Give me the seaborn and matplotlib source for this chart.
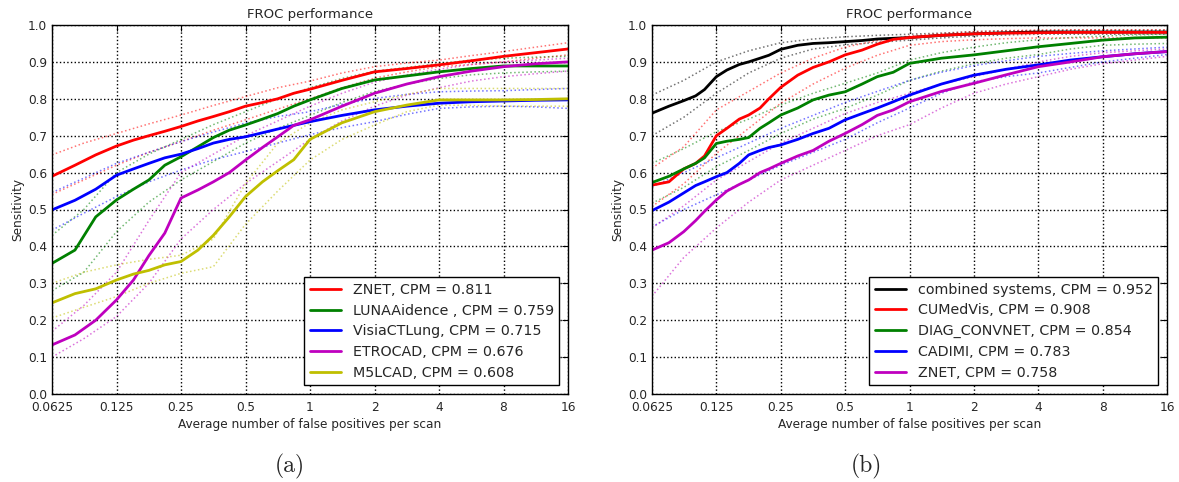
import numpy as np
import pandas as pd
import matplotlib
matplotlib.use("Agg")
import matplotlib.pyplot as plt
import seaborn as sns

# x grids (average false positives per scan)
xa = [0.0625, 0.08, 0.1, 0.125, 0.15, 0.177, 0.21, 0.25, 0.3, 0.354, 0.42, 0.5,
      0.6, 0.707, 0.84, 1, 1.41, 2, 2.83, 4, 5.66, 8, 11.3, 16]
xr = [0.0625, 0.075, 0.088, 0.1, 0.11, 0.125, 0.14, 0.16, 0.177, 0.2, 0.22, 0.25,
      0.3, 0.354, 0.42, 0.5, 0.6, 0.707, 0.84, 1, 1.41, 2, 2.83, 4, 5.66, 8, 11.3, 16]
xband = [0.0625, 0.088, 0.125, 0.177, 0.25, 0.354, 0.5, 0.707, 1, 1.41, 2, 2.83,
         4, 5.66, 8, 11.3, 16]

# panel (a)
labels_a = ["ZNET, CPM = 0.811", "LUNAAidence , CPM = 0.759", "VisiaCTLung, CPM = 0.715",
            "ETROCAD, CPM = 0.676", "M5LCAD, CPM = 0.608"]
colors_a = ["r", "g", "b", "m", "y"]
znet_a = [0.59, 0.62, 0.648, 0.672, 0.688, 0.70, 0.712, 0.725, 0.74, 0.752, 0.765, 0.78,
          0.79, 0.80, 0.815, 0.826, 0.85, 0.873, 0.882, 0.892, 0.903, 0.915, 0.925, 0.935]
luna_a = [0.354, 0.39, 0.48, 0.526, 0.555, 0.58, 0.62, 0.643, 0.67, 0.695, 0.715, 0.729,
          0.745, 0.76, 0.78, 0.797, 0.828, 0.851, 0.862, 0.873, 0.882, 0.889, 0.889, 0.889]
visia_a = [0.499, 0.525, 0.555, 0.593, 0.61, 0.625, 0.64, 0.65, 0.665, 0.68, 0.69, 0.697,
           0.708, 0.718, 0.728, 0.738, 0.755, 0.77, 0.78, 0.788, 0.792, 0.794, 0.796, 0.797]
etro_a = [0.133, 0.16, 0.20, 0.255, 0.309, 0.375, 0.436, 0.531, 0.553, 0.575, 0.60, 0.634,
          0.668, 0.697, 0.728, 0.743, 0.78, 0.815, 0.84, 0.86, 0.875, 0.887, 0.895, 0.90]
m5_a = [0.247, 0.272, 0.285, 0.309, 0.325, 0.335, 0.35, 0.359, 0.39, 0.43, 0.48, 0.535,
        0.575, 0.605, 0.635, 0.69, 0.735, 0.765, 0.783, 0.797, 0.797, 0.797, 0.798, 0.80]

znet_a_hi = [0.648, 0.68, 0.706, 0.732, 0.756, 0.782, 0.806, 0.83, 0.848, 0.87, 0.887, 0.897, 0.905, 0.917, 0.928, 0.94, 0.952]
znet_a_lo = [0.541, 0.58, 0.62, 0.655, 0.684, 0.715, 0.743, 0.772, 0.80, 0.83, 0.856, 0.873, 0.887, 0.893, 0.90, 0.91, 0.919]
luna_a_hi = [0.43, 0.50, 0.60, 0.65, 0.69, 0.73, 0.765, 0.80, 0.83, 0.855, 0.875, 0.885, 0.895, 0.905, 0.91, 0.913, 0.915]
luna_a_lo = [0.28, 0.33, 0.44, 0.52, 0.58, 0.63, 0.68, 0.72, 0.755, 0.79, 0.82, 0.84, 0.855, 0.865, 0.87, 0.873, 0.875]
visia_a_hi = [0.546, 0.585, 0.625, 0.655, 0.684, 0.71, 0.734, 0.752, 0.765, 0.785, 0.801, 0.812, 0.819, 0.821, 0.822, 0.825, 0.828]
visia_a_lo = [0.444, 0.49, 0.535, 0.575, 0.607, 0.635, 0.657, 0.68, 0.703, 0.722, 0.738, 0.758, 0.774, 0.778, 0.78, 0.778, 0.774]
etro_a_hi = [0.17, 0.24, 0.33, 0.47, 0.60, 0.65, 0.70, 0.74, 0.78, 0.815, 0.845, 0.865, 0.88, 0.893, 0.90, 0.905, 0.91]
etro_a_lo = [0.10, 0.15, 0.21, 0.30, 0.42, 0.50, 0.57, 0.63, 0.69, 0.74, 0.78, 0.81, 0.83, 0.848, 0.86, 0.868, 0.875]
m5_a_hi = [0.30, 0.33, 0.35, 0.365, 0.376, 0.42, 0.57, 0.68, 0.735, 0.77, 0.792, 0.812, 0.828, 0.828, 0.828, 0.828, 0.828]
m5_a_lo = [0.206, 0.235, 0.264, 0.30, 0.327, 0.345, 0.46, 0.55, 0.634, 0.69, 0.729, 0.765, 0.783, 0.782, 0.78, 0.78, 0.78]

# panel (b)
labels_b = ["combined systems, CPM = 0.952", "CUMedVis, CPM = 0.908", "DIAG_CONVNET, CPM = 0.854",
            "CADIMI, CPM = 0.783", "ZNET, CPM = 0.758"]
colors_b = ["k", "r", "g", "b", "m"]
comb_b = [0.761, 0.78, 0.795, 0.808, 0.825, 0.86, 0.878, 0.893, 0.90, 0.91, 0.918, 0.934, 0.945, 0.95,
          0.952, 0.955, 0.958, 0.962, 0.964, 0.966, 0.972, 0.976, 0.979, 0.981, 0.981, 0.981, 0.981, 0.981]
cumed_b = [0.566, 0.575, 0.61, 0.625, 0.645, 0.70, 0.72, 0.745, 0.756, 0.775, 0.80, 0.831, 0.864, 0.885,
           0.90, 0.919, 0.932, 0.948, 0.961, 0.966, 0.972, 0.976, 0.978, 0.979, 0.98, 0.98, 0.98, 0.98]
diag_b = [0.573, 0.59, 0.61, 0.625, 0.64, 0.679, 0.685, 0.69, 0.695, 0.72, 0.735, 0.756, 0.775, 0.797,
          0.81, 0.819, 0.84, 0.86, 0.872, 0.896, 0.91, 0.919, 0.93, 0.941, 0.95, 0.959, 0.965, 0.967]
cadimi_b = [0.497, 0.52, 0.545, 0.565, 0.575, 0.589, 0.60, 0.625, 0.648, 0.66, 0.668, 0.675, 0.69, 0.706,
            0.72, 0.743, 0.76, 0.775, 0.792, 0.81, 0.84, 0.864, 0.88, 0.892, 0.905, 0.914, 0.922, 0.928]
znet_b = [0.39, 0.41, 0.44, 0.47, 0.495, 0.526, 0.55, 0.568, 0.58, 0.60, 0.61, 0.625, 0.645, 0.66,
          0.685, 0.706, 0.73, 0.755, 0.77, 0.792, 0.82, 0.842, 0.865, 0.887, 0.90, 0.914, 0.922, 0.928]

comb_b_hi = [0.81, 0.85, 0.90, 0.93, 0.952, 0.962, 0.968, 0.972, 0.975, 0.978, 0.982, 0.984, 0.985, 0.986, 0.986, 0.986, 0.986]
comb_b_lo = [0.70, 0.75, 0.815, 0.87, 0.91, 0.935, 0.946, 0.953, 0.959, 0.965, 0.97, 0.973, 0.975, 0.975, 0.975, 0.975, 0.975]
cumed_b_hi = [0.612, 0.67, 0.77, 0.82, 0.87, 0.91, 0.94, 0.958, 0.97, 0.977, 0.982, 0.985, 0.986, 0.987, 0.987, 0.987, 0.987]
cumed_b_lo = [0.508, 0.57, 0.652, 0.72, 0.788, 0.84, 0.883, 0.918, 0.945, 0.955, 0.96, 0.963, 0.965, 0.965, 0.965, 0.965, 0.965]
diag_b_hi = [0.625, 0.665, 0.711, 0.745, 0.783, 0.815, 0.842, 0.87, 0.905, 0.925, 0.94, 0.952, 0.96, 0.966, 0.97, 0.973, 0.975]
diag_b_lo = [0.517, 0.56, 0.616, 0.66, 0.706, 0.745, 0.774, 0.81, 0.85, 0.875, 0.895, 0.91, 0.92, 0.935, 0.945, 0.948, 0.95]
cadimi_b_hi = [0.562, 0.60, 0.64, 0.68, 0.72, 0.755, 0.79, 0.82, 0.85, 0.872, 0.89, 0.903, 0.915, 0.923, 0.93, 0.935, 0.94]
cadimi_b_lo = [0.453, 0.50, 0.54, 0.58, 0.62, 0.655, 0.69, 0.735, 0.775, 0.815, 0.846, 0.86, 0.87, 0.885, 0.90, 0.91, 0.92]
znet_b_hi = [0.45, 0.51, 0.58, 0.63, 0.68, 0.72, 0.76, 0.79, 0.815, 0.84, 0.86, 0.88, 0.90, 0.915, 0.925, 0.93, 0.935]
znet_b_lo = [0.265, 0.37, 0.45, 0.52, 0.58, 0.62, 0.66, 0.70, 0.73, 0.775, 0.815, 0.84, 0.86, 0.88, 0.895, 0.905, 0.915]

xticks = [0.0625, 0.125, 0.25, 0.5, 1, 2, 4, 8, 16]
xticklabels = ["0.0625", "0.125", "0.25", "0.5", "1", "2", "4", "8", "16"]
yticks = [0.0, 0.1, 0.2, 0.3, 0.4, 0.5, 0.6, 0.7, 0.8, 0.9, 1.0]

sns.set_style("white")
plt.rcParams["font.family"] = ["DejaVu Sans"]

fig = plt.figure(figsize=(11.79, 4.82), dpi=100)
ax_a = fig.add_axes([52 / 1179, 1 - 394 / 482, 516 / 1179, 369 / 482])
ax_b = fig.add_axes([652 / 1179, 1 - 394 / 482, 515 / 1179, 369 / 482])


def draw_panel(ax, x, curves, bands, labels, colors):
    for y, (hi, lo), lab, c in zip(curves, bands, labels, colors):
        for b in (hi, lo):
            sns.lineplot(x=xband, y=b, ax=ax, color=c, linestyle=":", linewidth=1.1,
                         alpha=0.55, estimator=None, legend=False)
    for y, lab, c in zip(curves, labels, colors):
        sns.lineplot(x=x, y=y, ax=ax, color=c, linewidth=2, label=lab, estimator=None)

    ax.set_xscale("log", base=2)
    ax.set_xlim(0.0625, 16)
    ax.set_ylim(0, 1)
    ax.set_xticks(xticks)
    ax.set_xticklabels(xticklabels)
    ax.xaxis.set_minor_locator(matplotlib.ticker.NullLocator())
    ax.set_yticks(yticks)
    ax.set_yticklabels([f"{v:.1f}" for v in yticks])
    ax.tick_params(direction="in", top=True, right=True, length=4, labelsize=8.7,
                   pad=3.5, color="k")
    ax.tick_params(axis="x", pad=5)
    ax.grid(True, color="k", linestyle=":", linewidth=1)
    for s in ax.spines.values():
        s.set_color("k")
        s.set_linewidth(1)
    ax.set_title("FROC performance", fontsize=9.5, pad=5)
    ax.set_xlabel("Average number of false positives per scan", fontsize=8.7, labelpad=3)
    ax.set_ylabel("Sensitivity", fontsize=8.7, labelpad=3)
    leg = ax.legend(loc="lower right", fontsize=10.3, fancybox=False, framealpha=1,
                    edgecolor="k", handlelength=2.2, borderaxespad=0.6, labelspacing=0.47)
    leg.get_frame().set_linewidth(1)


draw_panel(ax_a, xa, [znet_a, luna_a, visia_a, etro_a, m5_a],
           [(znet_a_hi, znet_a_lo), (luna_a_hi, luna_a_lo), (visia_a_hi, visia_a_lo),
            (etro_a_hi, etro_a_lo), (m5_a_hi, m5_a_lo)], labels_a, colors_a)
draw_panel(ax_b, xr, [comb_b, cumed_b, diag_b, cadimi_b, znet_b],
           [(comb_b_hi, comb_b_lo), (cumed_b_hi, cumed_b_lo), (diag_b_hi, diag_b_lo),
            (cadimi_b_hi, cadimi_b_lo), (znet_b_hi, znet_b_lo)], labels_b, colors_b)

fig.text(290 / 1179, 1 - 466 / 482, "(a)", family="cmr10", fontsize=17, ha="center", va="center")
fig.text(866 / 1179, 1 - 466 / 482, "(b)", family="cmr10", fontsize=17, ha="center", va="center")

fig.savefig("out.png", dpi=100)
